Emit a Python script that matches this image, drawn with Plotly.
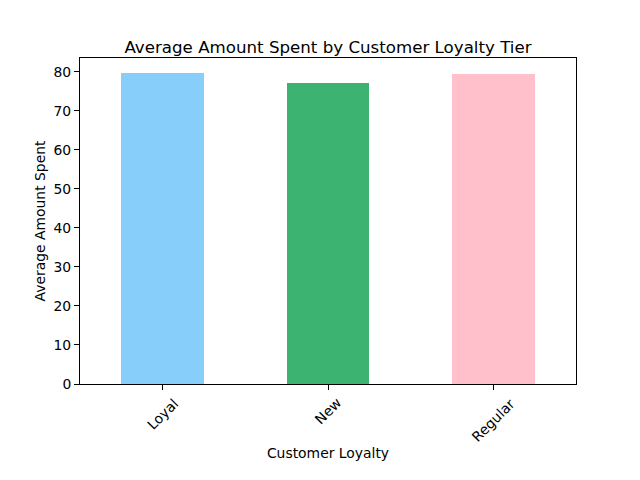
import plotly.graph_objects as go

categories = ["Loyal", "New", "Regular"]
avg_spent = [79.6, 77.1, 79.4]
colors = ["#87CEFA", "#3CB371", "#FFC0CB"]
y_ticks = [0, 10, 20, 30, 40, 50, 60, 70, 80]

# browser body margin is 8px, so the figure is 632x472 and offsets shrink by 8
W, H = 632, 472
font = "DejaVu Sans, sans-serif"
tick_size = 13.9

fig = go.Figure(go.Bar(
    x=categories, y=avg_spent, width=0.5,
    marker=dict(color=colors, line=dict(width=0)),
))

# rotated category labels, centred under each tick (matplotlib style)
for c in categories:
    fig.add_annotation(
        x=c, xref="x", y=0, yref="paper", text=c, showarrow=False,
        textangle=-45, xanchor="center", yanchor="top", yshift=-8,
        font=dict(family=font, size=tick_size, color="black"),
    )

fig.update_layout(
    width=W, height=H,
    margin=dict(l=72, r=64, t=50, b=96, autoexpand=False),
    paper_bgcolor="white", plot_bgcolor="white",
    font=dict(family=font, size=tick_size, color="black"),
    title=dict(text="Average Amount Spent by Customer Loyalty Tier",
               x=0.5, xanchor="center", xref="paper",
               y=1 - 45 / H, yanchor="bottom",
               font=dict(size=16.67)),
    showlegend=False,
    bargap=0,
)
fig.update_xaxes(
    range=[-0.5, 2.5], showticklabels=False, ticks="outside", ticklen=5,
    tickcolor="black", showline=True, linecolor="black", linewidth=1,
    mirror=True, showgrid=False, automargin=False,
    title=dict(text="Customer Loyalty", standoff=59,
               font=dict(size=tick_size)),
)
fig.update_yaxes(
    range=[0, 83.5], tickvals=y_ticks, ticks="outside", ticklen=5,
    tickcolor="black", tickfont=dict(size=tick_size),
    showline=True, linecolor="black", linewidth=1, mirror=True,
    showgrid=False, zeroline=False, automargin=False,
    title=dict(text="Average Amount Spent", standoff=4,
               font=dict(size=tick_size)),
)
fig.write_html("out.html")
